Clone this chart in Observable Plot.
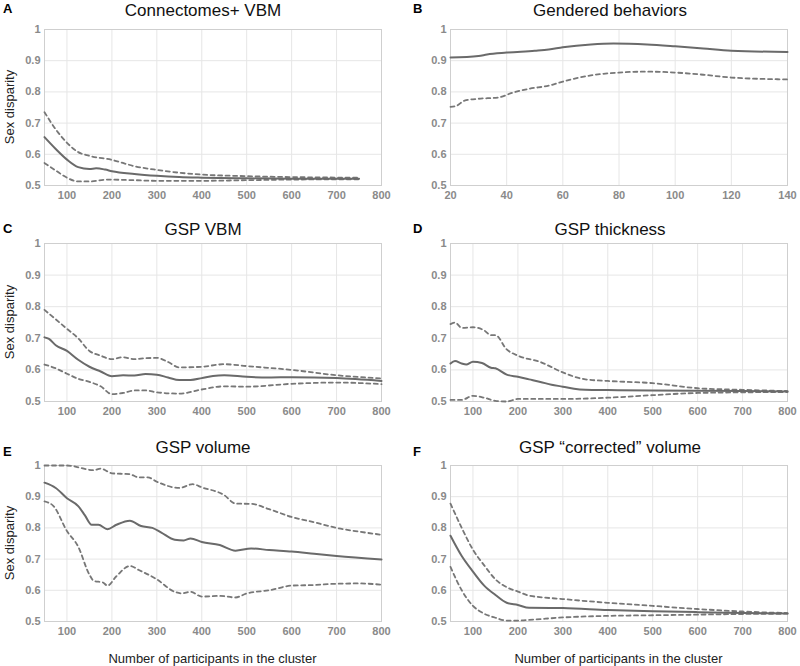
<!DOCTYPE html>
<html>
<head>
<meta charset="utf-8">
<script src="https://cdn.jsdelivr.net/npm/d3@7"></script>
<script src="https://cdn.jsdelivr.net/npm/@observablehq/plot@0.6"></script>
<style>
  html, body { margin: 0; padding: 0; background: #fff; }
  #wrap { position: relative; width: 800px; height: 666px; font-family: "Liberation Sans", Arial, sans-serif; overflow: hidden; }
  .letter { position: absolute; font-weight: bold; font-size: 13px; color: #000; }
  .title { position: absolute; font-size: 17px; color: #111; transform: translate(-50%, -50%); white-space: nowrap; }
  .ylab { position: absolute; font-size: 13px; color: #222; transform: translate(-50%, -50%) rotate(-90deg); white-space: nowrap; }
  .xlab { position: absolute; font-size: 13px; color: #222; transform: translate(-50%, -50%); white-space: nowrap; }
  .plot { position: absolute; }
</style>
</head>
<body>
<div id="wrap"></div>
<script>
// ---------- Data ----------
const titles = ["Connectomes+ VBM", "Gendered behaviors", "GSP VBM", "GSP thickness", "GSP volume", "GSP \u201ccorrected\u201d volume"];
const letters = ["A", "B", "C", "D", "E", "F"];
const yTicks = [0.5, 0.6, 0.7, 0.8, 0.9, 1];
const xTicksN = [100, 200, 300, 400, 500, 600, 700, 800];
const xTicksB = [20, 40, 60, 80, 100, 120, 140];

// Panel A
const aMid = [[50,0.655],[75,0.617],[100,0.583],[125,0.559],[150,0.553],[165,0.555],[185,0.551],[200,0.546],[250,0.537],[300,0.531],[350,0.527],[400,0.525],[500,0.523],[600,0.522],[750,0.522]];
const aUp  = [[50,0.735],[75,0.68],[100,0.637],[125,0.607],[150,0.595],[200,0.582],[250,0.562],[300,0.55],[350,0.541],[400,0.535],[500,0.53],[600,0.527],[750,0.525]];
const aLo  = [[50,0.572],[75,0.548],[100,0.525],[125,0.513],[150,0.513],[190,0.519],[250,0.517],[300,0.515],[400,0.515],[500,0.517],[600,0.519],[750,0.52]];
// Panel B
const bMid = [[20,0.91],[30,0.915],[33,0.92],[40,0.926],[50,0.932],[55,0.936],[60,0.943],[70,0.952],[78,0.955],[90,0.952],[100,0.946],[110,0.939],[120,0.932],[140,0.928]];
const bLo  = [[20,0.752],[22,0.755],[25,0.772],[30,0.778],[37,0.782],[42,0.797],[48,0.81],[55,0.82],[60,0.833],[70,0.853],[80,0.862],[90,0.865],[100,0.862],[110,0.855],[120,0.846],[140,0.84]];
// Panel C
const cMid = [[50,0.703],[60,0.698],[75,0.678],[100,0.66],[125,0.632],[150,0.61],[175,0.595],[200,0.58],[225,0.583],[250,0.582],[275,0.587],[300,0.585],[325,0.576],[350,0.568],[375,0.568],[400,0.574],[425,0.581],[450,0.583],[500,0.578],[550,0.576],[600,0.577],[700,0.574],[800,0.565]];
const cUp  = [[50,0.79],[75,0.76],[100,0.73],[125,0.7],[150,0.66],[175,0.645],[200,0.634],[225,0.64],[250,0.634],[275,0.637],[300,0.638],[325,0.625],[350,0.608],[400,0.61],[450,0.618],[500,0.612],[600,0.6],[700,0.583],[800,0.573]];
const cLo  = [[50,0.617],[75,0.605],[100,0.588],[125,0.572],[150,0.562],[175,0.548],[200,0.523],[225,0.527],[250,0.535],[275,0.535],[300,0.529],[350,0.525],[400,0.538],[450,0.548],[500,0.547],[600,0.556],[700,0.56],[800,0.555]];
// Panel D
const dMid = [[50,0.62],[60,0.628],[75,0.62],[85,0.617],[100,0.626],[120,0.622],[140,0.607],[150,0.605],[175,0.585],[200,0.578],[225,0.57],[250,0.562],[275,0.553],[300,0.547],[325,0.54],[350,0.537],[400,0.536],[500,0.535],[600,0.534],[800,0.532]];
const dUp  = [[50,0.745],[60,0.75],[75,0.733],[100,0.735],[125,0.725],[140,0.71],[150,0.71],[175,0.665],[200,0.645],[250,0.625],[300,0.592],[350,0.57],[400,0.565],[500,0.558],[600,0.542],[700,0.537],[800,0.533]];
const dLo  = [[50,0.505],[75,0.505],[100,0.518],[125,0.512],[150,0.502],[175,0.5],[200,0.508],[300,0.508],[400,0.512],[500,0.52],[600,0.527],[800,0.53]];
// Panel E
const eMid = [[50,0.945],[75,0.928],[100,0.895],[125,0.87],[140,0.84],[155,0.81],[170,0.81],[190,0.796],[210,0.81],[240,0.823],[265,0.806],[290,0.8],[310,0.785],[340,0.762],[360,0.76],[375,0.766],[400,0.755],[440,0.745],[475,0.727],[510,0.734],[550,0.729],[600,0.724],[650,0.717],[700,0.71],[800,0.699]];
const eUp  = [[50,1.0],[100,1.0],[160,0.985],[175,0.99],[200,0.975],[240,0.972],[260,0.962],[280,0.962],[300,0.948],[350,0.928],[380,0.94],[400,0.93],[450,0.905],[475,0.878],[510,0.877],[550,0.86],[600,0.835],[650,0.818],[700,0.8],[750,0.788],[800,0.778]];
const eLo  = [[50,0.885],[70,0.87],[100,0.79],[125,0.74],[150,0.65],[160,0.63],[180,0.625],[190,0.615],[210,0.645],[240,0.678],[260,0.665],[300,0.635],[340,0.595],[355,0.59],[375,0.595],[400,0.58],[440,0.582],[475,0.577],[500,0.59],[550,0.6],[600,0.615],[650,0.617],[700,0.621],[750,0.622],[800,0.618]];
// Panel F
const fMid = [[50,0.775],[75,0.71],[100,0.66],[125,0.615],[150,0.585],[175,0.56],[200,0.553],[225,0.544],[300,0.543],[400,0.537],[500,0.533],[600,0.53],[700,0.527],[800,0.526]];
const fUp  = [[50,0.878],[75,0.8],[100,0.73],[125,0.68],[150,0.635],[175,0.61],[200,0.596],[225,0.583],[300,0.572],[400,0.56],[500,0.55],[600,0.54],[700,0.532],[800,0.527]];
const fLo  = [[50,0.675],[75,0.6],[100,0.55],[125,0.525],[150,0.512],[175,0.503],[200,0.503],[225,0.505],[300,0.513],[400,0.518],[500,0.52],[600,0.522],[700,0.524],[800,0.525]];

const panels = [
  {mid: aMid, dashed: [aUp, aLo], xDomain: [50, 800], xTicks: xTicksN},
  {mid: bMid, dashed: [bLo], xDomain: [20, 140], xTicks: xTicksB},
  {mid: cMid, dashed: [cUp, cLo], xDomain: [50, 800], xTicks: xTicksN},
  {mid: dMid, dashed: [dUp, dLo], xDomain: [50, 800], xTicks: xTicksN},
  {mid: eMid, dashed: [eUp, eLo], xDomain: [50, 800], xTicks: xTicksN},
  {mid: fMid, dashed: [fUp, fLo], xDomain: [50, 800], xTicks: xTicksN}
];

// ---------- Layout ----------
const wrap = document.getElementById("wrap");
const rowPlotTop = [29, 243, 465];
const rowPlotH = [156, 158, 156];
const rowTitleY = [11, 230, 448];
const rowLetterY = [1, 221, 444];
const colLeft = [0, 400];
const colMargins = [{l: 44, r: 19}, {l: 50, r: 13}];
const titleX = [203, 610];

function add(cls, text, x, y) {
  const d = document.createElement("div");
  d.className = cls;
  d.textContent = text;
  d.style.left = x + "px";
  d.style.top = y + "px";
  wrap.appendChild(d);
  return d;
}

panels.forEach((p, i) => {
  const row = Math.floor(i / 2), col = i % 2;
  const mT = 9, mB = 24;
  const m = colMargins[col];
  const plot = Plot.plot({
    width: 400,
    height: rowPlotH[row] + mT + mB,
    marginTop: mT, marginBottom: mB, marginLeft: m.l, marginRight: m.r,
    style: {fontFamily: "'Liberation Sans', Arial, sans-serif", fontSize: "11px", background: "transparent", overflow: "visible"},
    x: {domain: p.xDomain, ticks: p.xTicks, tickSize: 0, tickPadding: 6, label: null},
    y: {domain: [0.5, 1], ticks: yTicks, tickSize: 0, tickPadding: 4, label: null,
        tickFormat: d => String(+d.toFixed(1))},
    marks: [
      Plot.gridX(p.xTicks, {stroke: "#e6e6e6", strokeOpacity: 1}),
      Plot.gridY(yTicks, {stroke: "#e6e6e6", strokeOpacity: 1}),
      Plot.frame({stroke: "#cfcfcf"}),
      ...p.dashed.map(s => Plot.line(s, {x: d => d[0], y: d => d[1], stroke: "#777", strokeWidth: 1.8, strokeDasharray: "4,3.5", curve: "monotone-x"})),
      Plot.line(p.mid, {x: d => d[0], y: d => d[1], stroke: "#6a6a6a", strokeWidth: 2, curve: "monotone-x"}),
      Plot.axisX({ticks: p.xTicks, tickSize: 0, tickPadding: 6, fill: "#8a8a8a", fontWeight: "bold", label: null}),
      Plot.axisY({ticks: yTicks, tickSize: 0, tickPadding: 4, fill: "#8a8a8a", fontWeight: "bold", label: null, tickFormat: d => String(+d.toFixed(1))})
    ]
  });
  plot.classList.add("plot");
  plot.style.left = colLeft[col] + "px";
  plot.style.top = (rowPlotTop[row] - mT) + "px";
  wrap.appendChild(plot);

  add("letter", letters[i], colLeft[col] + (col ? 13 : 3), rowLetterY[row]);
  add("title", titles[i], titleX[col], rowTitleY[row]);
  if (col === 0) {
    add("ylab", "Sex disparity", 9, rowPlotTop[row] + rowPlotH[row] / 2);
  }
  if (row === 2) {
    const x0 = colLeft[col] + m.l, x1 = colLeft[col] + 400 - m.r;
    add("xlab", "Number of participants in the cluster", (x0 + x1) / 2, 658);
  }
});
</script>
</body>
</html>
